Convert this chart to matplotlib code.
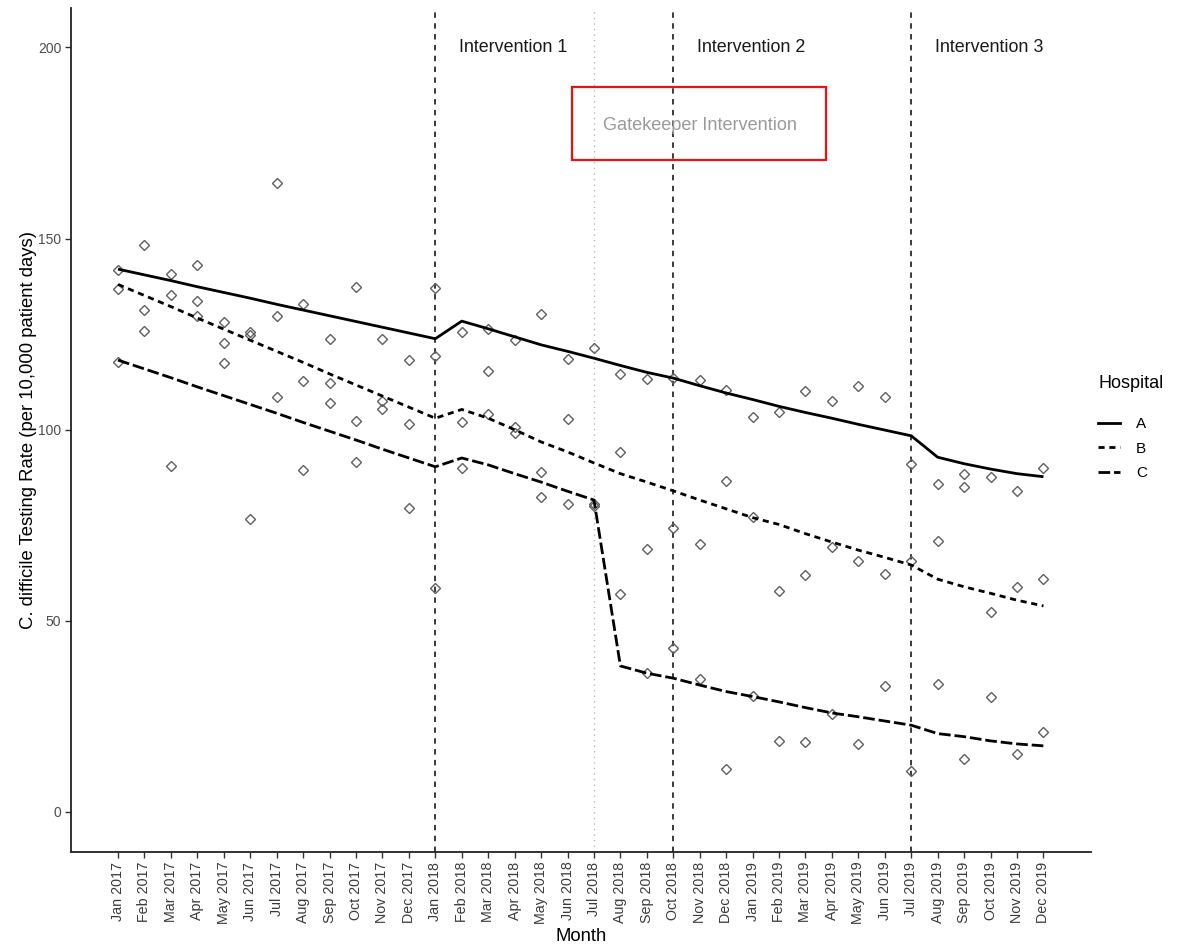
import matplotlib
matplotlib.use("Agg")
import matplotlib.pyplot as plt
from matplotlib.lines import Line2D
from matplotlib.patches import Rectangle

plt.rcParams["font.family"] = ["Liberation Sans", "DejaVu Sans"]

# ---------------------------------------------------------------- data
months = [
    "Jan 2017", "Feb 2017", "Mar 2017", "Apr 2017", "May 2017", "Jun 2017",
    "Jul 2017", "Aug 2017", "Sep 2017", "Oct 2017", "Nov 2017", "Dec 2017",
    "Jan 2018", "Feb 2018", "Mar 2018", "Apr 2018", "May 2018", "Jun 2018",
    "Jul 2018", "Aug 2018", "Sep 2018", "Oct 2018", "Nov 2018", "Dec 2018",
    "Jan 2019", "Feb 2019", "Mar 2019", "Apr 2019", "May 2019", "Jun 2019",
    "Jul 2019", "Aug 2019", "Sep 2019", "Oct 2019", "Nov 2019", "Dec 2019",
]

# observed monthly testing rates
obs_A = [141.9, 148.4, 140.6, 143.0, 128.1, 125.5, 164.5, 132.9, 123.8, 137.3, 123.8, 118.2,
         137.1, 125.5, 126.4, 123.5, 130.3, 118.6, 121.5, 114.6, 113.3, 113.6, 113.1, 110.3,
         103.4, 104.7, 110.0, 107.4, 111.5, 108.6, 90.9, 85.8, 88.4, 87.7, 83.9, 90.0]
obs_B = [136.9, 131.3, 135.2, 133.7, 122.8, 124.9, 129.8, 112.8, 112.2, 102.2, 107.5, 101.6,
         119.2, 101.9, 115.3, 100.6, 88.9, 102.7, 80.5, 94.1, 68.8, 74.4, 70.2, 86.6,
         77.2, 57.9, 62.1, 69.2, 65.7, 62.3, 65.7, 70.8, 85.1, 52.2, 58.8, 60.9]
obs_C = [117.7, 125.7, 90.5, 129.7, 117.5, 76.7, 108.6, 89.4, 106.9, 91.5, 105.4, 79.6,
         58.7, 89.9, 104.1, 99.2, 82.3, 80.6, 80.0, 57.0, 36.3, 42.8, 34.9, 11.2,
         30.3, 18.6, 18.4, 25.6, 17.7, 33.0, 10.7, 33.4, 13.9, 30.0, 15.2, 21.0]

# fitted segmented-regression rates
fit_A = [142.0, 140.5, 139.0, 137.4, 135.9, 134.4, 132.8, 131.3, 129.8, 128.3, 126.8, 125.3,
         123.8, 128.4, 126.4, 124.3, 122.2, 120.5, 118.7, 116.8, 115.0, 113.5, 111.5, 109.6,
         107.9, 106.1, 104.5, 103.0, 101.4, 99.9, 98.4, 92.8, 91.1, 89.7, 88.5, 87.7]
fit_B = [138.0, 135.1, 132.2, 129.2, 126.3, 123.4, 120.5, 117.6, 114.6, 111.7, 108.8, 105.9,
         103.0, 105.3, 103.0, 100.0, 96.8, 94.2, 91.3, 88.5, 86.3, 84.0, 81.6, 79.3,
         77.0, 75.2, 72.8, 70.6, 68.5, 66.6, 64.6, 60.9, 58.9, 57.2, 55.4, 53.9]
fit_C = [118.2, 115.9, 113.6, 111.2, 108.9, 106.6, 104.3, 101.9, 99.6, 97.3, 94.9, 92.6,
         90.3, 92.6, 90.8, 88.5, 86.3, 83.9, 81.6, 38.2, 36.3, 35.0, 33.2, 31.5,
         30.2, 28.8, 27.3, 25.9, 24.9, 23.8, 22.7, 20.5, 19.7, 18.6, 17.8, 17.3]

hospitals = ["A", "B", "C"]
intervention_months = ["Jan 2018", "Oct 2018", "Jul 2019"]
intervention_labels = ["Intervention 1", "Intervention 2", "Intervention 3"]
intervention_label_months = ["Apr 2018", "Jan 2019", "Oct 2019"]
gatekeeper_month = "Jul 2018"
gatekeeper_label = "Gatekeeper Intervention"
gatekeeper_label_month = "Oct 2018"
y_ticks = [0, 50, 100, 150, 200]

# ---------------------------------------------------------------- figure
fig = plt.figure(figsize=(11.79, 9.46), dpi=100)
ax = fig.add_axes([0.0602, 0.0994, 0.8652, 0.8921])

x = list(range(len(months)))
idx = {m: i for i, m in enumerate(months)}

styles = {
    "A": dict(linestyle="-"),
    "B": dict(linestyle=(0, (2.2, 1.7))),
    "C": dict(linestyle=(0, (4.2, 1.4))),
}
fits = {"A": fit_A, "B": fit_B, "C": fit_C}
obs = {"A": obs_A, "B": obs_B, "C": obs_C}

# intervention markers
for m in intervention_months:
    ax.axvline(idx[m], color="#2b2b2b", lw=1.3, linestyle=(0, (3, 3)), zorder=1)
ax.axvline(idx[gatekeeper_month], color="#b8b8b8", lw=1.0, linestyle=(0, (1, 3)), zorder=1)

# observed points
for h in hospitals:
    ax.plot(x, obs[h], linestyle="none", marker="D", markersize=5.4,
            markerfacecolor="none", markeredgecolor="#5f5f5f", markeredgewidth=1.0, zorder=2)

# fitted lines
handles = []
for h in hospitals:
    ax.plot(x, fits[h], color="black", lw=2.0, zorder=3,
            solid_capstyle="butt", dash_capstyle="butt", **styles[h])
    handles.append(Line2D([], [], color="black", lw=2.0, dash_capstyle="butt", **styles[h]))

# annotations
for lab, m in zip(intervention_labels, intervention_label_months):
    ax.text(idx[m] - 0.04, 200, lab, ha="center", va="center", fontsize=12.9, color="#1a1a1a")
ax.text(idx[gatekeeper_label_month] + 1.0, 179.6, gatekeeper_label, ha="center", va="center",
        fontsize=13.1, color="#9a9a9a")
fig.patches.append(Rectangle((572 / 1179, 1 - 160 / 946), (826 - 572) / 1179, (160 - 87) / 946,
                             transform=fig.transFigure, fill=False, edgecolor="#ee1111", lw=1.6))

# axes styling
ax.set_xlim(-1.78, 36.8)
ax.set_ylim(-10.46, 210.3)
ax.set_xticks(x)
ax.set_xticklabels(months, rotation=90, fontsize=10.3, color="#3a3a3a")
ax.set_yticks(y_ticks)
ax.set_yticklabels([str(t) for t in y_ticks], fontsize=10, color="#4d4d4d")
ax.tick_params(axis="both", length=4, width=1.0, color="#333333", pad=3)
for s in ["top", "right"]:
    ax.spines[s].set_visible(False)
for s in ["left", "bottom"]:
    ax.spines[s].set_linewidth(1.3)
    ax.spines[s].set_color("#222222")

ax.set_xlabel("Month", fontsize=13.3, color="black")
ax.xaxis.set_label_coords(0.5, -0.1007)
ax.xaxis.label.set_va("center")
ax.set_ylabel("C. difficile Testing Rate (per 10,000 patient days)", fontsize=13.3, color="black")
ax.yaxis.set_label_coords(-0.042, 0.5)
ax.yaxis.label.set_va("center")

# legend
fig.text(1098 / 1179, 1 - 383 / 946, "Hospital", ha="left", va="center", fontsize=13, color="black")
fig.legend(handles, hospitals, loc="upper left",
           bbox_to_anchor=(1098 / 1179, 1 - 417 / 946), frameon=False,
           fontsize=11, handlelength=1.45, handletextpad=1.05,
           labelspacing=0.7, borderpad=0, borderaxespad=0)

fig.savefig("out.png", dpi=100, facecolor="white")
